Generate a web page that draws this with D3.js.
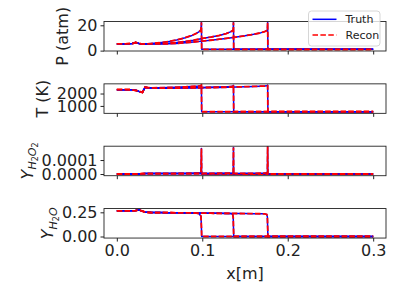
<!DOCTYPE html>
<html>
<head>
<meta charset="utf-8">
<script src="https://cdn.jsdelivr.net/npm/d3@7"></script>
<style>
  body { margin: 0; background: #fff; }
  svg { display: block; font-family: "DejaVu Sans", sans-serif; }
</style>
</head>
<body>
<svg id="chart" width="407" height="305"></svg>
<script>
// snapshot 1, front near x = 0.099
const x1 = [0, 0.010, 0.018, 0.022, 0.026, 0.030, 0.033, 0.036, 0.040, 0.050, 0.060, 0.070, 0.080, 0.088, 0.093, 0.096, 0.0985, 0.0990, 0.0993, 0.100, 0.200, 0.300];
const p1 = [5.3, 5.3, 5.6, 6.4, 5.6, 5.1, 5.3, 5.4, 5.6, 6.2, 7.1, 8.4, 10.2, 12.0, 13.6, 14.8, 16.4, 22.3, 1.0, 1.0, 1.0, 1.0];
const t1 = [2310, 2310, 2300, 2260, 2170, 2090, 2500, 2480, 2460, 2470, 2490, 2510, 2540, 2570, 2590, 2610, 2640, 2690, 530, 530, 530, 530];
const h2o2_1 = [0, 0, 0, 0, 0, 2e-6, 3e-6, 3e-6, 3e-6, 3e-6, 3e-6, 4e-6, 4e-6, 5e-6, 6e-6, 7e-6, 8e-6, 1.83e-4, 0, 0, 0, 0];
const h2o_1 = [0.265, 0.265, 0.266, 0.268, 0.274, 0.262, 0.252, 0.250, 0.248, 0.247, 0.246, 0.245, 0.244, 0.243, 0.241, 0.238, 0.21, 0.10, 0, 0, 0, 0];

// snapshot 2, front near x = 0.1365
const x2 = [0, 0.010, 0.018, 0.022, 0.026, 0.030, 0.033, 0.036, 0.040, 0.050, 0.060, 0.070, 0.080, 0.090, 0.100, 0.110, 0.120, 0.128, 0.133, 0.1355, 0.1362, 0.1365, 0.1368, 0.200, 0.300];
const p2 = [5.3, 5.3, 5.6, 6.4, 5.6, 5.1, 5.3, 5.3, 5.4, 5.5, 5.8, 6.4, 7.2, 8.2, 9.6, 10.7, 12.0, 13.5, 14.8, 15.8, 16.4, 22.3, 1.0, 1.0, 1.0];
const t2 = [2310, 2310, 2300, 2260, 2170, 2090, 2500, 2470, 2450, 2440, 2440, 2450, 2460, 2470, 2480, 2500, 2520, 2540, 2560, 2580, 2600, 2660, 530, 530, 530];
const h2o2_2 = [0, 0, 0, 0, 0, 2e-6, 3e-6, 3e-6, 3e-6, 3e-6, 3e-6, 3e-6, 3e-6, 3e-6, 4e-6, 4e-6, 5e-6, 5e-6, 6e-6, 7e-6, 8e-6, 1.9e-4, 0, 0, 0];
const h2o_2 = [0.265, 0.265, 0.266, 0.268, 0.274, 0.262, 0.252, 0.250, 0.248, 0.247, 0.246, 0.245, 0.244, 0.243, 0.242, 0.241, 0.240, 0.239, 0.238, 0.232, 0.20, 0.10, 0, 0, 0];

// snapshot 3, front near x = 0.1765
const x3 = [0, 0.010, 0.018, 0.022, 0.026, 0.030, 0.033, 0.036, 0.040, 0.050, 0.060, 0.070, 0.080, 0.090, 0.100, 0.110, 0.120, 0.130, 0.140, 0.150, 0.160, 0.168, 0.173, 0.1755, 0.1762, 0.1765, 0.1768, 0.250, 0.300];
const p3 = [5.3, 5.3, 5.6, 6.4, 5.6, 5.1, 5.3, 5.3, 5.3, 5.3, 5.4, 5.7, 6.2, 6.8, 7.5, 8.2, 9.0, 9.8, 10.7, 11.7, 12.9, 14.0, 15.0, 15.8, 16.4, 22.3, 1.0, 1.0, 1.0];
const t3 = [2310, 2310, 2300, 2260, 2170, 2090, 2500, 2470, 2450, 2430, 2430, 2440, 2450, 2460, 2470, 2480, 2490, 2510, 2530, 2550, 2570, 2590, 2600, 2620, 2640, 2680, 530, 530, 530];
const h2o2_3 = [0, 0, 0, 0, 0, 2e-6, 3e-6, 3e-6, 3e-6, 3e-6, 3e-6, 3e-6, 3e-6, 3e-6, 3e-6, 3e-6, 4e-6, 4e-6, 4e-6, 5e-6, 5e-6, 6e-6, 7e-6, 8e-6, 9e-6, 2.0e-4, 0, 0, 0];
const h2o_3 = [0.265, 0.265, 0.266, 0.268, 0.274, 0.262, 0.252, 0.250, 0.248, 0.247, 0.246, 0.245, 0.244, 0.243, 0.242, 0.241, 0.240, 0.239, 0.238, 0.237, 0.236, 0.235, 0.234, 0.228, 0.20, 0.10, 0, 0, 0];

const xTicks = [0, 0.1, 0.2, 0.3];
const pTicks = [0, 20];
const tTicks = [1000, 2000];
const h2o2Ticks = [0, 0.0001];
const h2oTicks = [0, 0.25];
const legendLabels = ['Truth', 'Recon'];

// the reconstruction sits right on top of the truth in the picture
const snapshots = [
  {x: x1, truth: [p1, t1, h2o2_1, h2o_1], recon: [p1, t1, h2o2_1, h2o_1]},
  {x: x2, truth: [p2, t2, h2o2_2, h2o_2], recon: [p2, t2, h2o2_2, h2o_2]},
  {x: x3, truth: [p3, t3, h2o2_3, h2o_3], recon: [p3, t3, h2o2_3, h2o_3]}
];

const panels = [
  {domain: [-0.3, 23.0], ticks: pTicks, fmt: d3.format('d')},
  {domain: [400, 2780], ticks: tTicks, fmt: d3.format('d')},
  {domain: [-0.12e-4, 1.99e-4], ticks: h2o2Ticks, fmt: d3.format('.4f')},
  {domain: [-0.016, 0.289], ticks: h2oTicks, fmt: d3.format('.2f')}
];

const svg = d3.select('#chart');
const left = 104, right = 386;
const panelTop = 21.5, panelStep = 62.35, panelH = 29.5;
const fontSize = 16;

const x = d3.scaleLinear().domain([-0.015, 0.315]).range([left, right]);

panels.forEach((panel, i) => {
  const top = panelTop + i * panelStep;
  const y = d3.scaleLinear().domain(panel.domain).range([top + panelH, top]);
  panel.y = y;
  panel.top = top;

  svg.append('clipPath').attr('id', 'clip' + i)
    .append('rect').attr('x', left).attr('y', top).attr('width', right - left).attr('height', panelH);

  const g = svg.append('g');
  const lines = g.append('g').attr('clip-path', 'url(#clip' + i + ')');

  snapshots.forEach((s) => {
    const pts = (vals) => s.x.map((xv, k) => [xv, vals[k]]);
    const line = d3.line().x((d) => x(d[0])).y((d) => y(d[1]));
    lines.append('path')
      .attr('d', line(pts(s.truth[i])))
      .attr('fill', 'none').attr('stroke', '#0000ff').attr('stroke-width', 1.5)
      .attr('stroke-linejoin', 'round');
    lines.append('path')
      .attr('d', line(pts(s.recon[i])))
      .attr('fill', 'none').attr('stroke', '#ff0000').attr('stroke-width', 1.8)
      .attr('stroke-dasharray', '5.5,2.2');
  });

  // frame
  g.append('rect')
    .attr('x', left).attr('y', top).attr('width', right - left).attr('height', panelH)
    .attr('fill', 'none').attr('stroke', '#222').attr('stroke-width', 0.9);

  const yAxis = g.append('g')
    .attr('transform', 'translate(' + left + ',0)')
    .call(d3.axisLeft(y).tickValues(panel.ticks).tickFormat(panel.fmt).tickSize(3.5).tickPadding(3));
  yAxis.select('.domain').remove();
  yAxis.selectAll('text').attr('font-size', fontSize).attr('fill', '#222')
    .attr('font-family', '"DejaVu Sans", sans-serif');
  yAxis.selectAll('line').attr('stroke', '#222');
  // bbox is in the group's own coordinates, so add the translate back
  panel.tickLeft = left + yAxis.node().getBBox().x;

  const xAxis = g.append('g')
    .attr('transform', 'translate(0,' + (top + panelH) + ')')
    .call(d3.axisBottom(x).tickValues(xTicks).tickFormat(i === 3 ? d3.format('.1f') : '').tickSize(3.5).tickPadding(3));
  xAxis.select('.domain').remove();
  xAxis.selectAll('text').attr('font-size', fontSize).attr('fill', '#222')
    .attr('font-family', '"DejaVu Sans", sans-serif');
  xAxis.selectAll('line').attr('stroke', '#222');
});

// y labels, rotated, sitting left of the tick labels
function yLabel(i) {
  const p = panels[i];
  const cx = p.tickLeft - 5 - 3.8;
  const cy = p.top + panelH / 2;
  return svg.append('text')
    .attr('transform', 'translate(' + cx + ',' + cy + ') rotate(-90)')
    .attr('text-anchor', 'middle')
    .attr('font-size', fontSize)
    .attr('fill', '#222');
}

yLabel(0).text('P (atm)');
yLabel(1).text('T (K)');

const lab2 = yLabel(2);
lab2.append('tspan').attr('font-style', 'italic').text('Y');
lab2.append('tspan').attr('font-style', 'italic').attr('font-size', 11).attr('dy', 3.5).text('H');
lab2.append('tspan').attr('font-size', 8).attr('dy', 2).text('2');
lab2.append('tspan').attr('font-style', 'italic').attr('font-size', 11).attr('dy', -2).text('O');
lab2.append('tspan').attr('font-size', 8).attr('dy', 2).text('2');

const lab3 = yLabel(3);
lab3.append('tspan').attr('font-style', 'italic').text('Y');
lab3.append('tspan').attr('font-style', 'italic').attr('font-size', 11).attr('dy', 3.5).text('H');
lab3.append('tspan').attr('font-size', 8).attr('dy', 2).text('2');
lab3.append('tspan').attr('font-style', 'italic').attr('font-size', 11).attr('dy', -2).text('O');

svg.append('text')
  .attr('x', (left + right) / 2).attr('y', 279)
  .attr('text-anchor', 'middle')
  .attr('font-size', fontSize).attr('fill', '#222')
  .text('x[m]');

// legend
const leg = svg.append('g');
leg.append('rect')
  .attr('x', 308.5).attr('y', 11).attr('width', 71.5).attr('height', 35).attr('rx', 3)
  .attr('fill', '#fff').attr('fill-opacity', 0.8)
  .attr('stroke', '#ccc').attr('stroke-width', 0.8);
legendLabels.forEach((name, k) => {
  const ly = 19.3 + k * 15.7;
  leg.append('line')
    .attr('x1', 312.5).attr('x2', 336.5).attr('y1', ly).attr('y2', ly)
    .attr('stroke', k === 0 ? '#0000ff' : '#ff0000').attr('stroke-width', 1.5)
    .attr('stroke-dasharray', k === 0 ? null : '5.5,2.4');
  leg.append('text')
    .attr('x', 345.5).attr('y', ly + 4)
    .attr('font-size', 11).attr('fill', '#222')
    .text(name);
});
</script>
</body>
</html>
